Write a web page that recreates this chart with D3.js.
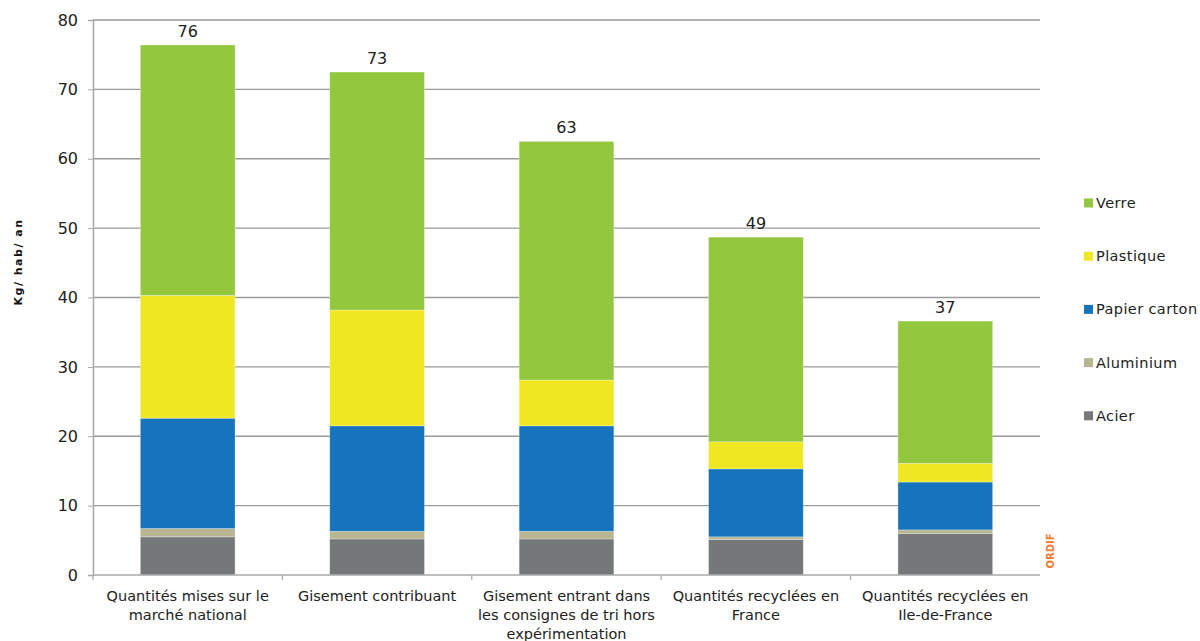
<!DOCTYPE html>
<html><head><meta charset="utf-8">
<script src="https://cdn.jsdelivr.net/npm/d3@7"></script>
<style>body{margin:0;background:#fff}svg{display:block;font-family:"DejaVu Sans",sans-serif}</style>
</head><body><svg id="c" width="1200" height="641"></svg>
<script>
const categories = [
  ["Quantités mises sur le","marché national"],
  ["Gisement contribuant"],
  ["Gisement entrant dans","les consignes de tri hors","expérimentation"],
  ["Quantités recyclées en","France"],
  ["Quantités recyclées en","Ile-de-France"]
];
const seriesNames = ["Acier","Aluminium","Papier carton","Plastique","Verre"];
const acier     = [5.5, 5.2, 5.2, 5.1, 6.0];
const aluminium = [1.2, 1.1, 1.1, 0.4, 0.5];
const papier    = [15.9, 15.2, 15.2, 9.8, 6.9];
const plastique = [17.7, 16.7, 6.6, 3.9, 2.7];
const verre     = [36.1, 34.3, 34.4, 29.5, 20.5];
const totalLabels = ["76","73","63","49","37"];
const yTicks = [0,10,20,30,40,50,60,70,80];
const colors = {"Acier":"#757878","Aluminium":"#b8b592","Papier carton":"#1674bc","Plastique":"#eee722","Verre":"#93c83e"};

const svg = d3.select("#c");
const x0 = 93, x1 = 1040, yTop = 20, yBot = 575;
const x = d3.scaleBand().domain(d3.range(categories.length)).range([x0, x1]).paddingInner(0.5).paddingOuter(0.25);
const y = d3.scaleLinear().domain([0, 80]).range([yBot, yTop]);

// gridlines
svg.append("g").selectAll("line").data(yTicks.filter(d => d > 0)).join("line")
  .attr("x1", x0).attr("x2", x1).attr("y1", d => y(d)).attr("y2", d => y(d))
  .attr("stroke", "#9a9a9a").attr("stroke-width", 1.3);

// y axis
const ya = svg.append("g").attr("transform", `translate(${x0},0)`)
  .call(d3.axisLeft(y).tickValues(yTicks).tickSize(5).tickPadding(10));
ya.select(".domain").attr("stroke", "#a8a8a8").attr("stroke-width", 1.5);
ya.selectAll(".tick line").attr("stroke", "#a8a8a8");
ya.selectAll("text").attr("font-size", 16).attr("fill", "#222").attr("font-family", "DejaVu Sans");

// stacked bars
const rows = categories.map((c, i) => ({i, "Acier": acier[i], "Aluminium": aluminium[i], "Papier carton": papier[i], "Plastique": plastique[i], "Verre": verre[i]}));
const stack = d3.stack().keys(seriesNames)(rows);
svg.append("g").selectAll("g").data(stack).join("g").attr("fill", d => colors[d.key])
  .selectAll("rect").data(d => d).join("rect")
  .attr("x", d => x(d.data.i)).attr("width", x.bandwidth())
  .attr("y", d => y(d[1])).attr("height", d => y(d[0]) - y(d[1]))
  .attr("stroke", "rgba(255,255,255,0.35)").attr("stroke-width", 0.8);

// x axis
svg.append("line").attr("x1", x0).attr("x2", x1).attr("y1", yBot).attr("y2", yBot)
  .attr("stroke", "#a8a8a8").attr("stroke-width", 1.5);
const bounds = d3.range(categories.length + 1).map(i => x0 + i * (x1 - x0) / categories.length);
svg.append("g").selectAll("line").data(bounds.slice(0, -1)).join("line")
  .attr("x1", d => d).attr("x2", d => d).attr("y1", yBot).attr("y2", yBot + 5)
  .attr("stroke", "#a8a8a8").attr("stroke-width", 1.2);

// category labels
svg.append("g").selectAll("text").data(categories).join("text")
  .attr("text-anchor", "middle").attr("font-size", 14.5).attr("fill", "#222")
  .attr("transform", (d, i) => `translate(${x(i) + x.bandwidth() / 2},601)`)
  .selectAll("tspan").data(d => d).join("tspan")
  .attr("x", 0).attr("dy", (d, j) => j === 0 ? 0 : 19).text(d => d);

// total labels
svg.append("g").selectAll("text").data(rows).join("text")
  .attr("x", d => x(d.i) + x.bandwidth() / 2)
  .attr("y", d => y(acier[d.i] + aluminium[d.i] + papier[d.i] + plastique[d.i] + verre[d.i]) - 8)
  .attr("text-anchor", "middle").attr("font-size", 16).attr("fill", "#222")
  .text(d => totalLabels[d.i]);

// y title
svg.append("text").attr("transform", "translate(22,262) rotate(-90)")
  .attr("text-anchor", "middle").attr("font-size", 11).attr("font-weight", "bold")
  .attr("letter-spacing", 1.5).attr("fill", "#111").text("Kg/ hab/ an");

// legend
const legendOrder = ["Verre","Plastique","Papier carton","Aluminium","Acier"];
const lg = svg.append("g").selectAll("g").data(legendOrder).join("g")
  .attr("transform", (d, i) => `translate(1084,${203 + i * 53.2})`);
lg.append("rect").attr("x", 0).attr("y", -4.5).attr("width", 9).attr("height", 9).attr("fill", d => colors[d]);
lg.append("text").attr("x", 12).attr("y", 5).attr("font-size", 14.5).attr("letter-spacing", 0.4).attr("fill", "#222").text(d => d);

// source
svg.append("text").attr("transform", "translate(1054,551) rotate(-90)")
  .attr("text-anchor", "middle").attr("font-size", 10).attr("font-weight", "bold")
  .attr("fill", "#f47a33").text("ORDIF");
</script></body></html>
